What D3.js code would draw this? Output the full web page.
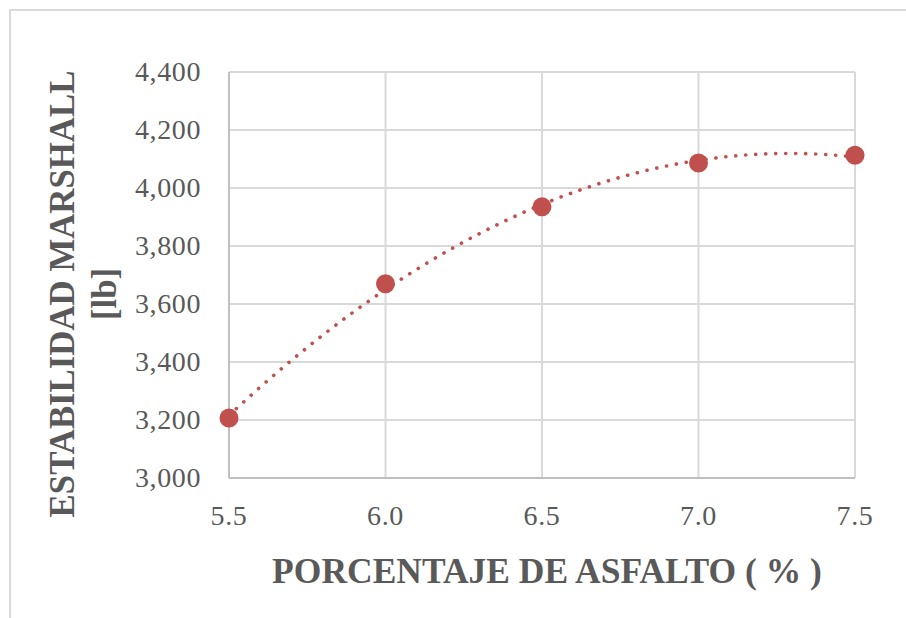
<!DOCTYPE html>
<html><head><meta charset="utf-8">
<script src="https://cdn.jsdelivr.net/npm/d3@7"></script>
<style>body{margin:0;background:#fff}svg{display:block}</style>
</head><body>
<svg id="c" width="906" height="618"></svg>
<script>
const asphalt = [5.5, 6.0, 6.5, 7.0, 7.5];
const stability = [3207, 3670, 3935, 4086, 4113];
const xTicks = [5.5, 6.0, 6.5, 7.0, 7.5];
const yTicks = [3000, 3200, 3400, 3600, 3800, 4000, 4200, 4400];
const xTitle = "PORCENTAJE DE ASFALTO ( % )";
const yTitle = ["ESTABILIDAD MARSHALL", "[lb]"];

(function () {
const FONT = '"Liberation Serif"';
const svg = d3.select("#c");
const pL = 229, pR = 855, pT = 72, pB = 478;
const x = d3.scaleLinear().domain([5.5, 7.5]).range([pL, pR]);
const y = d3.scaleLinear().domain([3000, 4400]).range([pB, pT]);

// outer border
svg.append("rect").attr("x", 10).attr("y", 10).attr("width", 900).attr("height", 610)
  .attr("fill", "none").attr("stroke", "#d9d9d9").attr("stroke-width", 2);

// gridlines
svg.append("g").selectAll("line").data(yTicks).join("line")
  .attr("x1", pL).attr("x2", pR).attr("y1", d => y(d)).attr("y2", d => y(d))
  .attr("stroke", "#d9d9d9").attr("stroke-width", 2);
svg.append("g").selectAll("line").data(xTicks).join("line")
  .attr("y1", pT).attr("y2", pB).attr("x1", d => x(d)).attr("x2", d => x(d))
  .attr("stroke", "#d9d9d9").attr("stroke-width", 2);

// axes lines
svg.append("line").attr("x1", pL).attr("x2", pL).attr("y1", pT).attr("y2", pB)
  .attr("stroke", "#bfbfbf").attr("stroke-width", 2);
svg.append("line").attr("x1", pL).attr("x2", pR).attr("y1", pB).attr("y2", pB)
  .attr("stroke", "#bfbfbf").attr("stroke-width", 2);

const fmt = d3.format(",");
svg.append("g").selectAll("text").data(yTicks).join("text")
  .attr("x", 201).attr("y", d => y(d) + 9)
  .attr("text-anchor", "end").style("font-family", FONT).style("font-size", "28px")
  .style("letter-spacing", "0.6px")
  .attr("fill", "#595959").text(d => fmt(d));
svg.append("g").selectAll("text").data(xTicks).join("text")
  .attr("x", d => x(d)).attr("y", 525)
  .attr("text-anchor", "middle").style("font-family", FONT).style("font-size", "28px")
  .style("letter-spacing", "0.6px")
  .attr("fill", "#595959").text(d => d3.format(".1f")(d));

// titles
function fit(sel, target) {
  const w = sel.node().getComputedTextLength();
  const fs = parseFloat(sel.style("font-size"));
  sel.style("font-size", (fs * target / w) + "px");
}
const xt = svg.append("text").attr("x", 547).attr("y", 583).attr("text-anchor", "middle")
  .style("font-family", FONT).style("font-weight", "bold").style("font-size", "30px")
  .attr("fill", "#595959").text(xTitle);
fit(xt, 550);
const g = svg.append("g").attr("transform", "translate(74,294) rotate(-90)");
const yt1 = g.append("text").attr("x", 0).attr("y", 0).attr("text-anchor", "middle")
  .style("font-family", FONT).style("font-weight", "bold").style("font-size", "30px")
  .attr("fill", "#595959").text(yTitle[0]);
fit(yt1, 447);
g.append("text").attr("x", 0).attr("y", 42).attr("text-anchor", "middle")
  .style("font-family", FONT).style("font-weight", "bold").style("font-size", yt1.style("font-size"))
  .attr("fill", "#595959").text(yTitle[1]);

// polynomial (order 2) least squares trendline, computed from data
function polyfit(xs, ys, deg) {
  const n = deg + 1;
  const A = Array.from({length: n}, () => new Array(n + 1).fill(0));
  for (let i = 0; i < xs.length; i++) {
    for (let r = 0; r < n; r++) {
      for (let c = 0; c < n; c++) A[r][c] += Math.pow(xs[i], r + c);
      A[r][n] += ys[i] * Math.pow(xs[i], r);
    }
  }
  for (let i = 0; i < n; i++) {
    let m = i;
    for (let k = i + 1; k < n; k++) if (Math.abs(A[k][i]) > Math.abs(A[m][i])) m = k;
    [A[i], A[m]] = [A[m], A[i]];
    for (let k = i + 1; k < n; k++) {
      const f = A[k][i] / A[i][i];
      for (let j = i; j <= n; j++) A[k][j] -= f * A[i][j];
    }
  }
  const coef = new Array(n).fill(0);
  for (let i = n - 1; i >= 0; i--) {
    let s = A[i][n];
    for (let j = i + 1; j < n; j++) s -= A[i][j] * coef[j];
    coef[i] = s / A[i][i];
  }
  return coef;
}
const xm = d3.mean(asphalt);
const coef = polyfit(asphalt.map(v => v - xm), stability, 2);
const trend = d3.range(5.5, 7.5001, 0.02).map(v => {
  const t = v - xm;
  return [v, coef.reduce((s, c, k) => s + c * Math.pow(t, k), 0)];
});
svg.append("path").datum(trend)
  .attr("d", d3.line().x(d => x(d[0])).y(d => y(d[1])))
  .attr("fill", "none").attr("stroke", "#C0504D").attr("stroke-width", 3.6)
  .attr("stroke-linecap", "round").attr("stroke-dasharray", "0.1,9.9");

// markers
svg.append("g").selectAll("circle").data(asphalt).join("circle")
  .attr("cx", d => x(d)).attr("cy", (d, i) => y(stability[i])).attr("r", 9.5)
  .attr("fill", "#C0504D");
})();
</script>
</body></html>
